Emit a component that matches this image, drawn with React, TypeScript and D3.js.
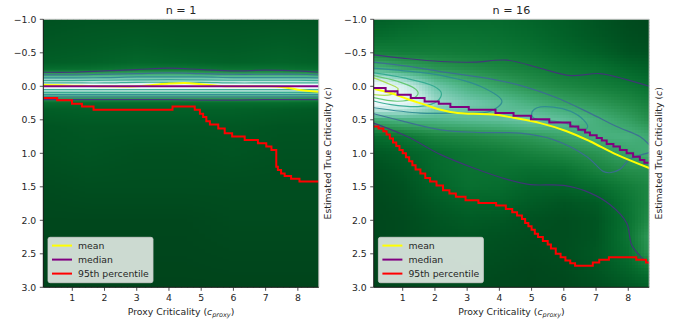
import * as d3 from 'd3';

// axis ticks
const xTicks = [1, 2, 3, 4, 5, 6, 7, 8];
const yTicks = [-1, -0.5, 0, 0.5, 1, 1.5, 2, 2.5, 3];
const xDomain: [number, number] = [0.1, 8.65];
const yDomain: [number, number] = [-1, 3];

// density (0 = darkest green, 1 = white)
const gridXLeft = [0.1, 1.5, 3, 4.5, 6, 7.5, 8.65];
const gridYLeft = [-1, -0.6, -0.35, -0.25, -0.2, -0.15, -0.1, -0.06, -0.03, 0, 0.03, 0.06, 0.1, 0.15, 0.2, 0.25, 0.35, 0.6, 1, 1.5, 2, 3];
const densityLeft = [
  [0.04, 0.05, 0.05, 0.05, 0.05, 0.05, 0.05],
  [0.06, 0.07, 0.08, 0.07, 0.07, 0.08, 0.07],
  [0.08, 0.09, 0.11, 0.1, 0.09, 0.1, 0.09],
  [0.13, 0.14, 0.17, 0.17, 0.15, 0.15, 0.13],
  [0.26, 0.27, 0.3, 0.3, 0.27, 0.27, 0.25],
  [0.42, 0.42, 0.44, 0.44, 0.42, 0.42, 0.4],
  [0.6, 0.58, 0.58, 0.58, 0.58, 0.58, 0.56],
  [0.78, 0.76, 0.7, 0.7, 0.74, 0.74, 0.74],
  [0.95, 0.97, 0.88, 0.86, 0.92, 0.92, 0.88],
  [1, 1, 0.97, 0.97, 1, 1, 0.97],
  [0.92, 0.96, 0.96, 0.97, 0.96, 0.96, 0.96],
  [0.76, 0.76, 0.8, 0.8, 0.78, 0.78, 0.76],
  [0.58, 0.58, 0.58, 0.58, 0.58, 0.58, 0.56],
  [0.42, 0.42, 0.42, 0.42, 0.42, 0.42, 0.4],
  [0.26, 0.26, 0.26, 0.26, 0.26, 0.26, 0.24],
  [0.13, 0.13, 0.13, 0.13, 0.13, 0.13, 0.12],
  [0.08, 0.09, 0.09, 0.09, 0.09, 0.08, 0.07],
  [0.05, 0.06, 0.06, 0.06, 0.06, 0.05, 0.05],
  [0.04, 0.05, 0.04, 0.04, 0.05, 0.04, 0.04],
  [0.02, 0.03, 0.03, 0.03, 0.03, 0.03, 0.03],
  [0.01, 0.01, 0.01, 0.01, 0.02, 0.02, 0.02],
  [0, 0, 0, 0, 0, 0, 0],
];

const gridXRight = [0.1, 1, 2, 3, 4, 5, 6, 7, 8, 8.65];
const gridYRight = [-1, -0.75, -0.5, -0.25, 0, 0.25, 0.5, 0.75, 1, 1.25, 1.5, 1.75, 2, 2.25, 2.5, 2.75, 3];
const densityRight = [
  [0.08, 0.1, 0.12, 0.12, 0.12, 0.1, 0.08, 0.05, 0.02, 0.01],
  [0.12, 0.14, 0.15, 0.15, 0.14, 0.12, 0.09, 0.06, 0.03, 0.02],
  [0.2, 0.19, 0.19, 0.18, 0.17, 0.15, 0.12, 0.09, 0.05, 0.04],
  [0.42, 0.35, 0.29, 0.26, 0.23, 0.2, 0.17, 0.15, 0.11, 0.09],
  [1, 0.8, 0.52, 0.4, 0.33, 0.27, 0.23, 0.2, 0.17, 0.14],
  [0.96, 0.92, 0.64, 0.54, 0.47, 0.39, 0.33, 0.29, 0.24, 0.2],
  [0.38, 0.42, 0.43, 0.46, 0.48, 0.52, 0.47, 0.39, 0.32, 0.26],
  [0.13, 0.16, 0.22, 0.24, 0.27, 0.3, 0.35, 0.4, 0.4, 0.36],
  [0.06, 0.09, 0.13, 0.16, 0.18, 0.21, 0.24, 0.28, 0.35, 0.38],
  [0.03, 0.06, 0.12, 0.15, 0.15, 0.14, 0.15, 0.21, 0.26, 0.27],
  [0.02, 0.04, 0.1, 0.14, 0.13, 0.1, 0.1, 0.13, 0.19, 0.23],
  [0.01, 0.03, 0.07, 0.1, 0.1, 0.07, 0.05, 0.07, 0.16, 0.23],
  [0.01, 0.02, 0.05, 0.07, 0.06, 0.04, 0.03, 0.05, 0.15, 0.25],
  [0.01, 0.02, 0.04, 0.05, 0.04, 0.03, 0.03, 0.05, 0.16, 0.3],
  [0.01, 0.02, 0.03, 0.04, 0.03, 0.02, 0.03, 0.06, 0.14, 0.28],
  [0, 0.01, 0.02, 0.03, 0.02, 0.01, 0.02, 0.05, 0.1, 0.16],
  [0, 0.01, 0.02, 0.02, 0.01, 0.01, 0.01, 0.03, 0.06, 0.08],
];

// contour colours, outer to inner
const levelColors = ['#46307e', '#3d6a96', '#2f8a93', '#2fa88e', '#5cc46c', '#a9d944'];

// n = 1 contours are nearly flat bands
const contourXLeft = [0.1, 1, 2, 3, 4, 5, 6, 7, 8, 8.65];
const contoursLeft = [
  { level: 0, c: [-0.21, -0.21, -0.23, -0.25, -0.27, -0.25, -0.23, -0.24, -0.23, -0.21] },
  { level: 1, c: [-0.17, -0.17, -0.18, -0.19, -0.2, -0.19, -0.18, -0.18, -0.18, -0.17] },
  { level: 2, c: [-0.125, -0.125, -0.13, -0.14, -0.14, -0.14, -0.13, -0.13, -0.13, -0.125] },
  { level: 3, c: [-0.085, -0.085, -0.09, -0.095, -0.1, -0.095, -0.09, -0.09, -0.09, -0.085] },
  { level: 3, c: [-0.05, -0.05, -0.05, -0.06, -0.06, -0.06, -0.05, -0.05, -0.05, -0.05] },
  { level: 3, c: [0.05, 0.05, 0.05, 0.05, 0.05, 0.05, 0.05, 0.05, 0.05, 0.05] },
  { level: 3, c: [0.09, 0.09, 0.09, 0.09, 0.09, 0.09, 0.09, 0.09, 0.09, 0.09] },
  { level: 2, c: [0.125, 0.125, 0.125, 0.125, 0.125, 0.125, 0.125, 0.125, 0.125, 0.125] },
  { level: 1, c: [0.16, 0.16, 0.16, 0.16, 0.16, 0.16, 0.16, 0.16, 0.16, 0.16] },
  { level: 0, c: [0.2, 0.2, 0.2, 0.2, 0.2, 0.205, 0.205, 0.2, 0.2, 0.2] },
];

// n = 16 contours, [x, c]
const contoursRight: { level: number; closed?: boolean; pts: [number, number][] }[] = [
  { level: 0, pts: [[0.1, -0.47], [1, -0.42], [2.18, -0.37], [3.2, -0.36], [4.24, -0.39], [5.27, -0.27], [6.2, -0.16], [7.12, -0.19], [7.95, -0.1], [8.65, 0]] },
  { level: 0, pts: [[0.1, 0.55], [1.14, 0.75], [2.18, 1.02], [3.2, 1.22], [4.24, 1.39], [4.96, 1.467], [6, 1.48], [6.81, 1.59], [7.43, 1.765], [7.95, 2.04], [8.1, 2.36], [8.36, 2.53], [8.65, 2.65]] },
  { level: 1, pts: [[0.1, -0.36], [1.14, -0.3], [2.18, -0.22], [3.72, -0.11], [4.75, 0], [5.78, 0.17], [6.81, 0.4], [7.64, 0.6], [8.36, 0.75], [8.65, 0.87]] },
  { level: 1, pts: [[0.1, 0.41], [1, 0.52], [2.18, 0.65], [3.4, 0.69], [4.65, 0.7], [5.67, 0.795], [6.72, 1.05], [7.22, 1.27], [7.43, 1.29], [7.74, 1.24], [8.05, 1.09], [8.65, 0.99]] },
  { level: 2, closed: true, pts: [[5.01, 0.39], [5.17, 0.32], [5.68, 0.31], [6.2, 0.37], [6.61, 0.5], [6.74, 0.6], [6.61, 0.67], [6.2, 0.57], [5.68, 0.52], [5.05, 0.47]] },
  { level: 2, pts: [[0.1, -0.27], [1.04, -0.23], [2.07, -0.174], [3.41, 0], [4.08, 0.223], [3.72, 0.372], [2.58, 0.4], [1.55, 0.4], [0.1, 0.32]] },
  { level: 3, pts: [[0.1, -0.2], [1.04, -0.125], [1.97, 0], [2.2, 0.1], [2.07, 0.223], [1.55, 0.3], [0.63, 0.273], [0.1, 0.22]] },
  { level: 4, pts: [[0.1, -0.16], [0.84, -0.075], [1.35, 0.025], [1.48, 0.1], [1.35, 0.174], [0.84, 0.223], [0.1, 0.17]] },
  { level: 5, pts: [[0.1, -0.125], [0.6, -0.03], [0.86, 0.04], [0.63, 0.125], [0.1, 0.125]] },
];

// mean lines
const meanLeft: [number, number][] = [[0.1, -0.02], [1, -0.01], [2, 0], [3, 0], [3.5, -0.02], [4, -0.04], [4.5, -0.05], [5, -0.03], [5.5, -0.01], [6, 0], [7, 0], [7.5, 0.01], [8, 0.05], [8.65, 0.08]];
const meanRight: [number, number][] = [[0.13, 0.04], [0.63, 0.1], [1.14, 0.19], [1.66, 0.27], [2.18, 0.35], [2.7, 0.4], [3.2, 0.41], [3.82, 0.42], [4.44, 0.47], [5.27, 0.55], [6.09, 0.67], [6.81, 0.82], [7.64, 1.02], [8.65, 1.22]];

// median lines (stepped)
const medianLeft: [number, number][] = [[0.1, 0], [8.65, 0]];
const medianRight: [number, number][] = [[0.1, 0.025], [0.47, 0.075], [0.84, 0.125], [1.25, 0.175], [1.68, 0.225], [2.12, 0.26], [2.48, 0.31], [3.05, 0.35], [3.88, 0.4], [4.44, 0.44], [4.98, 0.49], [5.55, 0.54], [6.2, 0.6], [6.45, 0.65], [6.66, 0.69], [6.81, 0.73], [7.02, 0.77], [7.18, 0.81], [7.33, 0.86], [7.54, 0.9], [7.74, 0.95], [7.95, 1], [8.15, 1.05], [8.36, 1.1], [8.5, 1.14], [8.65, 1.14]];

// 95th percentile lines (stepped)
const p95Left: [number, number][] = [[0.1, 0.175], [0.53, 0.21], [0.99, 0.26], [1.3, 0.3], [1.66, 0.35], [4.11, 0.3], [4.8, 0.35], [4.96, 0.41], [5.06, 0.46], [5.16, 0.52], [5.27, 0.57], [5.53, 0.63], [5.73, 0.7], [5.96, 0.75], [6.35, 0.8], [6.76, 0.85], [7.02, 0.9], [7.18, 0.95], [7.33, 1.2], [7.38, 1.25], [7.48, 1.3], [7.59, 1.34], [7.79, 1.38], [8.05, 1.42], [8.41, 1.42], [8.65, 1.42]];
const p95Right: [number, number][] = [[0.1, 0.6], [0.25, 0.63], [0.4, 0.67], [0.5, 0.72], [0.6, 0.78], [0.7, 0.84], [0.8, 0.89], [0.9, 0.95], [1, 1], [1.1, 1.06], [1.2, 1.12], [1.3, 1.18], [1.4, 1.24], [1.55, 1.3], [1.7, 1.37], [1.85, 1.42], [2.05, 1.48], [2.25, 1.55], [2.45, 1.6], [2.65, 1.65], [2.95, 1.7], [3.35, 1.74], [3.9, 1.78], [4.2, 1.83], [4.4, 1.88], [4.55, 1.93], [4.7, 1.98], [4.8, 2.04], [4.9, 2.09], [5, 2.14], [5.1, 2.2], [5.2, 2.25], [5.35, 2.31], [5.5, 2.36], [5.6, 2.42], [5.75, 2.5], [5.9, 2.55], [6.05, 2.6], [6.2, 2.64], [6.35, 2.68], [6.9, 2.63], [7.1, 2.59], [7.4, 2.55], [8.25, 2.59], [8.55, 2.63], [8.65, 2.63]];

const legendItems = [
  { label: 'mean', color: 'yellow' },
  { label: 'median', color: 'purple' },
  { label: '95th percentile', color: 'red' },
];

const color = (t: number) => d3.interpolateBuGn(1 - t);
const fmt = d3.format('.1f');
const ink = '#262626';
const fontFamily = '"DejaVu Sans", sans-serif';

// bilinear lookup in a density table, only used to paint the smooth heatmap
const sampler = (gx: number[], gy: number[], table: number[][]) => (vx: number, vy: number) => {
  const i = Math.min(Math.max(d3.bisectRight(gy, vy) - 1, 0), gy.length - 2);
  const j = Math.min(Math.max(d3.bisectRight(gx, vx) - 1, 0), gx.length - 2);
  const ty = Math.min(Math.max((vy - gy[i]) / (gy[i + 1] - gy[i]), 0), 1);
  const tx = Math.min(Math.max((vx - gx[j]) / (gx[j + 1] - gx[j]), 0), 1);
  const a = table[i][j] * (1 - tx) + table[i][j + 1] * tx;
  const b = table[i + 1][j] * (1 - tx) + table[i + 1][j + 1] * tx;
  return a * (1 - ty) + b * ty;
};

type PanelProps = {
  id: string;
  title: string;
  left: number;
  gridX: number[];
  gridY: number[];
  density: number[][];
  cellW: number;
  cellH: number;
  contours: { level: number; closed?: boolean; pts: [number, number][] }[];
  mean: [number, number][];
  median: [number, number][];
  p95: [number, number][];
};

function Panel({ id, title, left, gridX, gridY, density, cellW, cellH, contours, mean, median, p95 }: PanelProps) {
  const width = 275.5;
  const top = 19.3;
  const height = 268;
  const x = d3.scaleLinear().domain(xDomain).range([left, left + width]);
  const y = d3.scaleLinear().domain(yDomain).range([top, top + height]);
  const at = sampler(gridX, gridY, density);
  const pxX = d3.range(left, left + width, cellW);
  const pxY = d3.range(top, top + height, cellH);

  const smooth = d3.line<[number, number]>().x((d) => x(d[0])).y((d) => y(d[1])).curve(d3.curveCatmullRom);
  const loop = d3.line<[number, number]>().x((d) => x(d[0])).y((d) => y(d[1])).curve(d3.curveCatmullRomClosed);
  const steps = d3.line<[number, number]>().x((d) => x(d[0])).y((d) => y(d[1])).curve(d3.curveStepAfter);
  const midX = left + width / 2;
  const labelX = left + width + 9;
  const legendX = left + 4.7;

  return (
    <g fontFamily={fontFamily} fontSize={9.3} fill={ink}>
      <defs>
        <clipPath id={`${id}-clip`}>
          <rect x={left} y={top} width={width} height={height} />
        </clipPath>
      </defs>

      <g clipPath={`url(#${id}-clip)`}>
        <g shapeRendering="crispEdges">
          {pxY.map((py) =>
            pxX.map((px) => (
              <rect
                key={`${py}-${px}`}
                x={px}
                y={py}
                width={cellW + 0.6}
                height={cellH + 0.6}
                fill={color(at(x.invert(px + cellW / 2), y.invert(py + cellH / 2)))}
              />
            ))
          )}
        </g>
        {contours.map((c, i) => (
          <path
            key={i}
            d={(c.closed ? loop : smooth)(c.pts) ?? ''}
            fill="none"
            stroke={levelColors[c.level]}
            strokeWidth={1.2}
            strokeOpacity={0.9}
          />
        ))}
        <path d={smooth(mean) ?? ''} fill="none" stroke="yellow" strokeWidth={2} />
        <path d={steps(median) ?? ''} fill="none" stroke="purple" strokeWidth={2} />
        <path d={steps(p95) ?? ''} fill="none" stroke="red" strokeWidth={2} />
      </g>

      {/* spines */}
      <path d={`M${left},${top}H${left + width}V${top + height}`} fill="none" stroke="#c4c4c4" />
      <path d={`M${left},${top}V${top + height}H${left + width}`} fill="none" stroke="#1a1a1a" />

      {xTicks.map((t) => (
        <g key={t}>
          <line x1={x(t)} x2={x(t)} y1={top + height} y2={top + height + 3.5} stroke={ink} strokeWidth={0.8} />
          <text x={x(t)} y={top + height + 14} textAnchor="middle">{t}</text>
        </g>
      ))}
      {yTicks.map((t) => (
        <g key={t}>
          <line x1={left - 3.5} x2={left} y1={y(t)} y2={y(t)} stroke={ink} strokeWidth={0.8} />
          <text x={left - 7} y={y(t) + 3.4} textAnchor="end">{fmt(t)}</text>
        </g>
      ))}

      <text x={midX} y={14} textAnchor="middle" fontSize={11.2}>{title}</text>
      <text x={midX} y={315} textAnchor="middle">
        Proxy Criticality (<tspan fontStyle="italic">c</tspan>
        <tspan fontStyle="italic" fontSize={6.5} dy={2}>proxy</tspan>
        <tspan dy={-2}>)</tspan>
      </text>
      <text
        transform={`translate(${labelX},${top + height / 2}) rotate(-90)`}
        y={3.5}
        textAnchor="middle"
      >
        Estimated True Criticality (<tspan fontStyle="italic">c</tspan>)
      </text>

      {/* legend */}
      <rect x={legendX} y={237.3} width={105} height={45.4} rx={2} fill="#ffffff" fillOpacity={0.8} stroke="#cccccc" strokeOpacity={0.8} />
      {legendItems.map((item, i) => (
        <g key={item.label}>
          <line x1={legendX + 4} x2={legendX + 24} y1={245.6 + i * 14} y2={245.6 + i * 14} stroke={item.color} strokeWidth={2} />
          <text x={legendX + 30} y={249 + i * 14}>{item.label}</text>
        </g>
      ))}
    </g>
  );
}

export default function App() {
  const bandsLeft = contoursLeft.map((c) => ({
    level: c.level,
    pts: contourXLeft.map((v, i) => [v, c.c[i]] as [number, number]),
  }));

  return (
    <div style={{ position: 'absolute', left: 0, top: 0 }}>
      <svg width={678} height={325} style={{ display: 'block', background: '#fff' }}>
        <Panel
          id="n1"
          title="n = 1"
          left={43.3}
          gridX={gridXLeft}
          gridY={gridYLeft}
          density={densityLeft}
          cellW={6}
          cellH={1}
          contours={bandsLeft}
          mean={meanLeft}
          median={medianLeft}
          p95={p95Left}
        />
        <Panel
          id="n16"
          title="n = 16"
          left={373.7}
          gridX={gridXRight}
          gridY={gridYRight}
          density={densityRight}
          cellW={3}
          cellH={3}
          contours={contoursRight}
          mean={meanRight}
          median={medianRight}
          p95={p95Right}
        />
      </svg>
    </div>
  );
}
